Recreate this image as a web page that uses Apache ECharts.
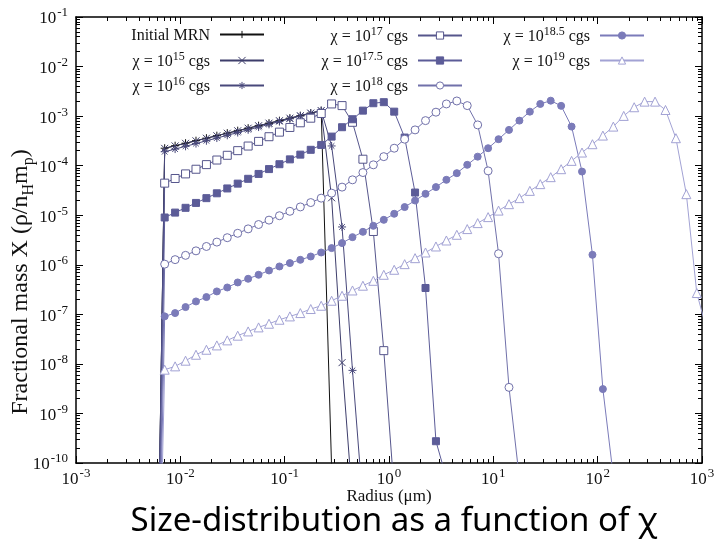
<!DOCTYPE html>
<html>
<head>
<meta charset="utf-8">
<script src="https://cdn.jsdelivr.net/npm/echarts@6/dist/echarts.min.js"></script>
<style>
  html, body { margin: 0; padding: 0; background: #fff; }
  #chart { width: 717px; height: 541px; }
</style>
</head>
<body>
<div id="chart"></div>
<script>
// grain radius (um), one marker every 0.1 dex
const radius = [
  0.005623, 0.007079, 0.008913, 0.01122, 0.01413, 0.01778, 0.02239, 0.02818, 0.03548, 0.04467,
  0.05623, 0.07079, 0.08913, 0.1122, 0.1413, 0.1778, 0.2239, 0.2818, 0.3548, 0.4467,
  0.5623, 0.7079, 0.8913, 1.122, 1.413, 1.778, 2.239, 2.818, 3.548, 4.467,
  5.623, 7.079, 8.913, 11.22, 14.13, 17.78, 22.39, 28.18, 35.48, 44.67,
  56.23, 70.79, 89.13, 112.2, 141.3, 177.8, 223.9, 281.8, 354.8, 446.7,
  562.3, 707.9, 891.3, 1122
];

// fractional mass per bin, same index as radius (first / last values sit below the frame)
const mrn = [1e-17, 2.25e-4, 2.53e-4, 2.84e-4, 3.19e-4, 3.59e-4, 4.03e-4, 4.53e-4, 5.08e-4, 5.71e-4,
  6.41e-4, 7.21e-4, 8.09e-4, 9.10e-4, 1.02e-3, 1.15e-3, 1.29e-3, 8e-11];
const chi15 = [1e-17, 2.23e-4, 2.5e-4, 2.82e-4, 3.17e-4, 3.57e-4, 4.01e-4, 4.51e-4, 5.06e-4, 5.7e-4,
  6.4e-4, 7.2e-4, 8.08e-4, 9.08e-4, 1.02e-3, 1.15e-3, 1.29e-3, 2.25e-5, 1.06e-8, 1.7e-11];
const chi16 = [1e-17, 1.91e-4, 2.16e-4, 2.46e-4, 2.79e-4, 3.18e-4, 3.61e-4, 4.10e-4, 4.66e-4, 5.29e-4,
  6.01e-4, 6.82e-4, 7.75e-4, 8.81e-4, 1.00e-3, 1.14e-3, 1.29e-3, 2.5e-4, 5.8e-6, 7.4e-9, 1.5e-11];
const chi17 = [1e-17, 4.44e-5, 5.51e-5, 6.82e-5, 8.47e-5, 1.05e-4, 1.30e-4, 1.62e-4, 2.01e-4, 2.49e-4,
  3.09e-4, 3.84e-4, 4.75e-4, 5.90e-4, 7.33e-4, 9.08e-4, 1.13e-3, 1.76e-3, 1.63e-3, 7.5e-4,
  1.35e-4, 4.7e-6, 1.85e-8, 2.6e-11];
const chi175 = [1e-17, 9.0e-6, 1.13e-5, 1.41e-5, 1.77e-5, 2.21e-5, 2.77e-5, 3.47e-5, 4.34e-5, 5.43e-5,
  6.81e-5, 8.53e-5, 1.07e-4, 1.34e-4, 1.67e-4, 2.09e-4, 2.62e-4, 3.86e-4, 5.97e-4, 8.65e-4,
  1.29e-3, 1.82e-3, 1.91e-3, 1.23e-3, 3.69e-4, 2.87e-5, 3.4e-7, 2.75e-10, 5e-11];
const chi18 = [1e-17, 1.03e-6, 1.27e-6, 1.55e-6, 1.91e-6, 2.34e-6, 2.87e-6, 3.52e-6, 4.32e-6, 5.30e-6,
  6.49e-6, 7.96e-6, 9.77e-6, 1.20e-5, 1.47e-5, 1.80e-5, 2.21e-5, 2.79e-5, 3.69e-5, 5.18e-5,
  7.26e-5, 1.04e-4, 1.52e-4, 2.25e-4, 3.42e-4, 5.27e-4, 8.11e-4, 1.20e-3, 1.76e-3, 2.02e-3,
  1.63e-3, 6.65e-4, 7.85e-5, 1.67e-6, 3.36e-9, 4.8e-11];
const chi185 = [1e-17, 9.1e-8, 1.06e-7, 1.40e-7, 1.82e-7, 2.23e-7, 2.90e-7, 3.48e-7, 4.40e-7, 5.22e-7,
  6.28e-7, 7.67e-7, 9.25e-7, 1.08e-6, 1.26e-6, 1.47e-6, 1.77e-6, 2.17e-6, 2.74e-6, 3.61e-6,
  4.62e-6, 6.11e-6, 8.07e-6, 1.07e-5, 1.46e-5, 1.98e-5, 2.70e-5, 3.69e-5, 5.18e-5, 7.06e-5,
  1.04e-4, 1.52e-4, 2.25e-4, 3.42e-4, 5.27e-4, 8.11e-4, 1.23e-3, 1.76e-3, 2.05e-3, 1.61e-3,
  6.14e-4, 7.60e-5, 1.59e-6, 3.1e-9, 5.4e-11];
const chi19 = [1e-17, 7.64e-9, 8.91e-9, 1.16e-8, 1.53e-8, 1.93e-8, 2.36e-8, 2.98e-8, 3.71e-8, 4.52e-8,
  5.45e-8, 6.46e-8, 7.78e-8, 9.08e-8, 1.06e-7, 1.28e-7, 1.49e-7, 1.88e-7, 2.37e-7, 3.03e-7,
  3.78e-7, 4.75e-7, 6.28e-7, 7.93e-7, 1.03e-6, 1.36e-6, 1.77e-6, 2.34e-6, 3.09e-6, 4.03e-6,
  5.25e-6, 6.93e-6, 9.16e-6, 1.24e-5, 1.67e-5, 2.21e-5, 3.10e-5, 4.24e-5, 5.86e-5, 8.49e-5,
  1.25e-4, 1.84e-4, 2.71e-4, 4.05e-4, 6.14e-4, 1.01e-3, 1.51e-3, 1.96e-3, 1.96e-3, 1.33e-3,
  3.58e-4, 2.66e-5, 2.69e-7, 4.5e-8];

const seriesNames = ['Initial MRN', 'χ = 10^15 cgs', 'χ = 10^16 cgs', 'χ = 10^17 cgs',
  'χ = 10^17.5 cgs', 'χ = 10^18 cgs', 'χ = 10^18.5 cgs', 'χ = 10^19 cgs'];
const seriesValues = [mrn, chi15, chi16, chi17, chi175, chi18, chi185, chi19];

const SERIF = '"Liberation Serif", "DejaVu Serif", serif';
const PLUS = 'path://M0,5L10,5M5,0L5,10';
const CROSS = 'path://M0,0L10,10M10,0L0,10';
const STAR = 'path://M0,5L10,5M5,0L5,10M1.5,1.5L8.5,8.5M8.5,1.5L1.5,8.5';

// marker look per series
const styles = [
  { symbol: PLUS, color: '#111111', open: false, size: 8 },
  { symbol: CROSS, color: '#3d3d6b', open: false, size: 7 },
  { symbol: STAR, color: '#48487b', open: false, size: 8 },
  { symbol: 'rect', color: '#56568c', open: true, size: 8 },
  { symbol: 'rect', color: '#5c5c98', open: false, size: 7 },
  { symbol: 'circle', color: '#7171aa', open: true, size: 8 },
  { symbol: 'circle', color: '#7b7bb9', open: false, size: 7 },
  { symbol: 'triangle', color: '#a2a2d4', open: true, size: 9 }
];
// legend slots [right, top]
const legendSlots = [[452, 28], [452, 51], [452, 76], [254, 26], [254, 51], [254, 76], [72, 26], [72, 51]];

const legendRich = {
  t: { fontFamily: SERIF, fontSize: 16, color: '#111', padding: [3, 0, 0, 0], verticalAlign: 'top' },
  s: { fontFamily: SERIF, fontSize: 12, color: '#111', verticalAlign: 'top' }
};
const labelRich = {
  t: { fontFamily: SERIF, fontSize: 17, color: '#111', padding: [4, 0, 0, 0], verticalAlign: 'top' },
  s: { fontFamily: SERIF, fontSize: 13, color: '#111', padding: [0, 0, 0, 1], verticalAlign: 'top' }
};

function supLabel(name) {
  return '{t|' + name.replace(/\^([\d.]+)/, '}{s|$1}{t|') + '}';
}
function powLabel(v) {
  return '{t|10}{s|' + Math.round(Math.log10(v)) + '}';
}

// minor ticks (2..9 of each decade) in log10 units
function minorTicks(lo, hi) {
  const out = [];
  for (let d = lo; d < hi; d++) {
    for (let k = 2; k <= 9; k++) out.push(d + Math.log10(k));
  }
  return out;
}

const axisLineStyle = { show: true, onZero: false, lineStyle: { color: '#000', width: 1.5 } };

function majorAxis(min, max, position, withLabels, extra) {
  return Object.assign({
    type: 'log', logBase: 10, min: min, max: max, splitNumber: 10, position: position,
    axisLine: axisLineStyle,
    axisTick: { show: true, inside: true, length: 7, lineStyle: { color: '#000', width: 1 } },
    axisLabel: withLabels ? { show: true, formatter: powLabel, rich: labelRich } : { show: false },
    splitLine: { show: false }, minorTick: { show: false }
  }, extra || {});
}
function minorAxis(min, max, position) {
  return {
    type: 'value', min: min, max: max, position: position,
    axisLine: { show: false, onZero: false },
    axisTick: { show: true, inside: true, length: 4, customValues: minorTicks(min, max), lineStyle: { color: '#000', width: 1 } },
    axisLabel: { show: false }, splitLine: { show: false }
  };
}

const series = seriesNames.map((name, i) => {
  const st = styles[i];
  const data = seriesValues[i].map((v, j) => [radius[j], v]);
  return {
    name: name, type: 'line', xAxisIndex: 0, yAxisIndex: 0,
    data: data, symbol: st.symbol, symbolSize: st.size,
    showSymbol: true, showAllSymbol: true, clip: true,
    lineStyle: { color: st.color, width: 1 },
    itemStyle: { color: st.open ? '#ffffff' : st.color, borderColor: st.color, borderWidth: 1 },
    emphasis: { disabled: true }
  };
});

const legends = seriesNames.map((name, i) => ({
  data: [name], right: legendSlots[i][0], top: legendSlots[i][1],
  orient: 'horizontal', align: 'right', padding: 0, itemGap: 0,
  itemWidth: 44, itemHeight: 9, selectedMode: false,
  itemStyle: { borderWidth: 1 },
  formatter: supLabel,
  textStyle: { fontFamily: SERIF, fontSize: 16, color: '#111', padding: [0, 5, 0, 0], rich: legendRich }
}));

const chart = echarts.init(document.getElementById('chart'));
chart.setOption({
  animation: false,
  backgroundColor: '#fff',
  title: {
    text: 'Size-distribution as a function of χ',
    left: 389, top: 500, textAlign: 'center',
    textStyle: { fontFamily: '"Noto Sans", "Open Sans", sans-serif', fontSize: 33, fontWeight: 'normal', color: '#000' }
  },
  legend: legends,
  grid: { left: 76, right: 15, top: 17, bottom: 78, containLabel: false, outerBoundsMode: 'none' },
  xAxis: [
    majorAxis(1e-3, 1e3, 'bottom', true, {
      name: 'Radius (μm)', nameLocation: 'middle', nameGap: 25, nameMoveOverlap: false,
      nameTextStyle: { fontFamily: SERIF, fontSize: 17, color: '#111' },
      axisLabel: { show: true, margin: 4, formatter: powLabel, rich: labelRich }
    }),
    majorAxis(1e-3, 1e3, 'top', false),
    minorAxis(-3, 3, 'bottom'),
    minorAxis(-3, 3, 'top')
  ],
  yAxis: [
    majorAxis(1e-10, 1e-1, 'left', true, {
      name: '{t|Fractional mass X (ρ/n}{b|H}{t|m}{b|p}{t|)}{gap| }',
      nameLocation: 'middle', nameGap: 39, nameRotate: 90, nameMoveOverlap: false,
      nameTextStyle: {
        rich: {
          t: { fontFamily: SERIF, fontSize: 24, color: '#111', verticalAlign: 'top' },
          b: { fontFamily: SERIF, fontSize: 16, color: '#111', padding: [12, 0, 0, 0], verticalAlign: 'top' },
          gap: { fontSize: 18, width: 84 }
        }
      },
      axisLabel: { show: true, margin: 8, formatter: powLabel, rich: labelRich }
    }),
    majorAxis(1e-10, 1e-1, 'right', false),
    minorAxis(-10, -1, 'left'),
    minorAxis(-10, -1, 'right')
  ],
  series: series
});
</script>
</body>
</html>
